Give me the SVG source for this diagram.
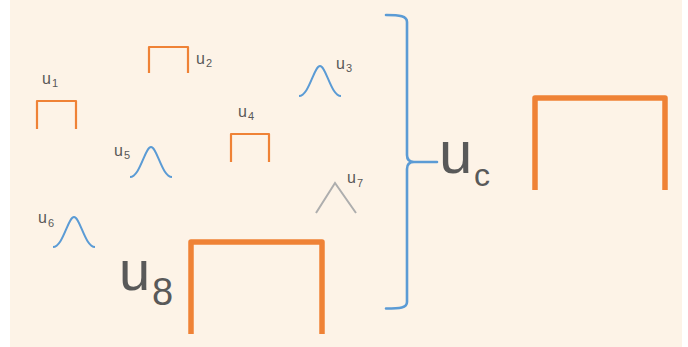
<svg xmlns="http://www.w3.org/2000/svg" width="688" height="347" viewBox="0 0 688 347">
<defs>
<style>
.bg{fill:#FDF3E7}
.pulse{fill:none;stroke:#EF8236;stroke-width:2.2;stroke-linejoin:round}
.big{fill:none;stroke:#EF8236;stroke-width:5.5;stroke-linejoin:round}
.bell{fill:none;stroke:#5B9BD5;stroke-width:2}
.tri{fill:none;stroke:#AEAEAE;stroke-width:2}
.brace{fill:none;stroke:#5B9BD5;stroke-width:2.6;stroke-linecap:round}
.t{font-family:"Liberation Sans",Arial,sans-serif;fill:#595959}
.s{font-size:16px}
.ss{font-size:11px}
</style>
<path id="bellshape" d="M0,30 C10,30 15,0 21,0 C27,0 32,30 42,30"/>
</defs>
<rect x="0" y="0" width="688" height="347" fill="#FFFFFF"/>
<rect class="bg" x="10" y="0" width="672" height="347"/>

<g id="u1">
<polyline class="pulse" points="37,129 37,101 76,101 76,129"/>
<text class="t s" x="42" y="84">u</text><text class="t ss" x="52" y="87">1</text>
</g>
<g id="u2">
<polyline class="pulse" points="149,73 149,47 188,47 188,73"/>
<text class="t s" x="196" y="64">u</text><text class="t ss" x="206" y="67">2</text>
</g>
<g id="u3">
<use class="bell" href="#bellshape" transform="translate(299,66)"/>
<text class="t s" x="336" y="69">u</text><text class="t ss" x="346" y="72">3</text>
</g>
<g id="u4">
<polyline class="pulse" points="231,162 231,134 269,134 269,162"/>
<text class="t s" x="238" y="117">u</text><text class="t ss" x="248" y="120">4</text>
</g>
<g id="u5">
<use class="bell" href="#bellshape" transform="translate(130,147)"/>
<text class="t s" x="114" y="156">u</text><text class="t ss" x="124" y="159">5</text>
</g>
<g id="u6">
<use class="bell" href="#bellshape" transform="translate(53,217)"/>
<text class="t s" x="38" y="223">u</text><text class="t ss" x="48" y="227">6</text>
</g>
<g id="u7">
<polyline class="tri" points="316,213 335,183 356,213"/>
<text class="t s" x="347" y="183">u</text><text class="t ss" x="357" y="187">7</text>
</g>
<g id="u8">
<polyline class="big" points="191,334 191,242 322,242 322,334"/>
<text class="t" style="font-size:56px" x="119" y="290">u</text><text class="t" style="font-size:38px" x="152" y="305">8</text>
</g>
<g id="uc">
<polyline class="big" points="535,190 535,98 665,98 665,190"/>
<text class="t" style="font-size:60px" x="439" y="173">u</text><text class="t" style="font-size:32px" x="474" y="186">c</text>
</g>
<g id="connectors">
<path class="brace" d="M386,15 C400,15 407,16 407,22 L407,155 C407,160 410,162 414,162 C410,162 407,164 407,169 L407,302 C407,308 400,308.5 386,308.5 M414,162 L437,162"/>
</g>
</svg>
